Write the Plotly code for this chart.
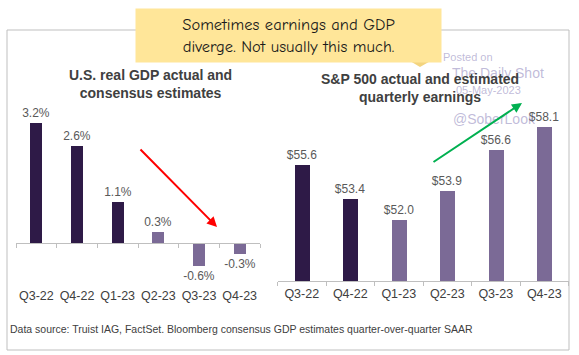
import plotly.graph_objects as go

W, H = 579, 355

quarters = ["Q3-22", "Q4-22", "Q1-23", "Q2-23", "Q3-23", "Q4-23"]
gdp = [3.2, 2.6, 1.1, 0.3, -0.6, -0.3]
gdp_colors = ["#2E1A47", "#2E1A47", "#2E1A47", "#7B6A96", "#7B6A96", "#7B6A96"]
eps = [55.6, 53.4, 52.0, 53.9, 56.6, 58.1]
eps_colors = ["#2E1A47", "#2E1A47", "#7B6A96", "#7B6A96", "#7B6A96", "#7B6A96"]

DARK = "#404040"
GRID = "#BFBFBF"


def px(x):
    return x / W


def py(y):
    return 1 - y / H


fig = go.Figure()

fig.add_trace(go.Bar(
    x=quarters, y=gdp, marker=dict(color=gdp_colors, line=dict(width=0)),
    width=0.3, text=[f"{v:.1f}%" for v in gdp], textposition="outside",
    constraintext="none",
    textfont=dict(family="Liberation Sans, Arial", size=12, color="#595959"),
    cliponaxis=False, xaxis="x", yaxis="y", showlegend=False,
))
fig.add_trace(go.Bar(
    x=quarters, y=eps, marker=dict(color=eps_colors, line=dict(width=0)),
    width=0.31, text=[f"${v:.1f}" for v in eps], textposition="outside",
    constraintext="none",
    textfont=dict(family="Liberation Sans, Arial", size=12, color="#595959"),
    cliponaxis=False, xaxis="x2", yaxis="y2", showlegend=False,
))

tickfont = dict(family="Liberation Sans, Arial", size=12.5, color=DARK)

fig.update_layout(
    width=W, height=H,
    margin=dict(l=0, r=0, t=0, b=0, autoexpand=False),
    paper_bgcolor="white", plot_bgcolor="rgba(0,0,0,0)",
    bargap=0,
    uniformtext=dict(mode=False),
    xaxis=dict(domain=[px(16), px(260)], range=[-0.5, 5.5], anchor="free",
               position=112 / H, showline=True, linecolor=GRID, linewidth=1,
               ticks="outside", tickson="boundaries", ticklen=4, tickcolor=GRID,
               showgrid=False, tickfont=tickfont, ticklabelstandoff=41,
               tickangle=0, automargin=False, fixedrange=True),
    yaxis=dict(domain=[0, 1], range=[-112 / 37.5, 243 / 37.5], visible=False,
               showgrid=False, zeroline=False, automargin=False),
    xaxis2=dict(domain=[px(277.5), px(568.5)], range=[-0.5, 5.5], anchor="y2",
                showline=True, linecolor=GRID, linewidth=1,
                ticks="outside", tickson="boundaries", ticklen=4, tickcolor=GRID,
                showgrid=False, tickfont=tickfont, tickangle=0, automargin=False,
                ticklabelstandoff=1),
    yaxis2=dict(domain=[74 / H, 1], range=[48, 48 + 281 / 15.25], visible=False,
                showgrid=False, zeroline=False, automargin=False),
)

# frame
fig.add_shape(type="rect", xref="paper", yref="paper",
              x0=px(7), x1=px(569), y0=py(350), y1=py(30),
              line=dict(color=GRID, width=1), fillcolor="rgba(0,0,0,0)", layer="below")

# note tail
fig.add_shape(type="path", xref="paper", yref="paper",
              path=f"M {px(410)} {py(61)} L {px(441)} {py(55)} L {px(420)} {py(67)} Z",
              fillcolor="#F3D47E", line=dict(width=0), layer="above")

wm = "rgba(140,130,185,0.55)"
ann = []
# watermark
ann.append(dict(x=px(441), y=py(57), text="Posted on", xanchor="left", yanchor="middle",
                font=dict(family="Liberation Sans, Arial", size=11, color=wm)))
ann.append(dict(x=px(498), y=py(73), text="The Daily Shot", xanchor="center", yanchor="middle",
                font=dict(family="Liberation Sans, Arial", size=14, color=wm)))
ann.append(dict(x=px(488), y=py(90), text="05-May-2023", xanchor="center", yanchor="middle",
                font=dict(family="Liberation Sans, Arial", size=11, color=wm)))
ann.append(dict(x=px(494), y=py(119), text="@SoberLook", xanchor="center", yanchor="middle",
                font=dict(family="Liberation Sans, Arial", size=14, color=wm)))
# note box
ann.append(dict(x=px(288.5), y=py(35.5), xanchor="center", yanchor="middle",
                text="Sometimes earnings and GDP<br>diverge. Not usually this much.",
                width=305, height=53, bgcolor="#FFE699", borderpad=0,
                font=dict(family="Comic Neue, Comic Sans MS, Lato, sans-serif", size=16.5, color="#1a1a1a")))
# titles
ann.append(dict(x=px(150), y=py(83.5), xanchor="center", yanchor="middle",
                text="<b>U.S. real GDP actual and<br>consensus estimates</b>",
                font=dict(family="Liberation Sans, Arial", size=14, color=DARK)))
ann.append(dict(x=px(420), y=py(88), xanchor="center", yanchor="middle",
                text="<b>S&P 500 actual and estimated<br>quarterly earnings</b>",
                font=dict(family="Liberation Sans, Arial", size=14, color=DARK)))
# source
ann.append(dict(x=px(8), y=py(329), xanchor="left", yanchor="middle",
                text="Data source: Truist IAG, FactSet. Bloomberg consensus GDP estimates quarter-over-quarter SAAR",
                font=dict(family="Liberation Sans, Arial", size=10.5, color=DARK)))
# arrows
ann.append(dict(x=px(217), y=py(227), ax=-78, ay=-79, text="", showarrow=True,
                arrowhead=2, arrowsize=1, arrowwidth=2, arrowcolor="#FF0000"))
ann.append(dict(x=px(522), y=py(103), ax=-90, ay=60, text="", showarrow=True,
                arrowhead=2, arrowsize=1, arrowwidth=2, arrowcolor="#00B050"))

for a in ann:
    a.setdefault("xref", "paper")
    a.setdefault("yref", "paper")
    a.setdefault("showarrow", False)
    fig.add_annotation(**a)

fig.write_html("out.html", config={"displayModeBar": False},
               post_script="document.body.style.margin='0';")
